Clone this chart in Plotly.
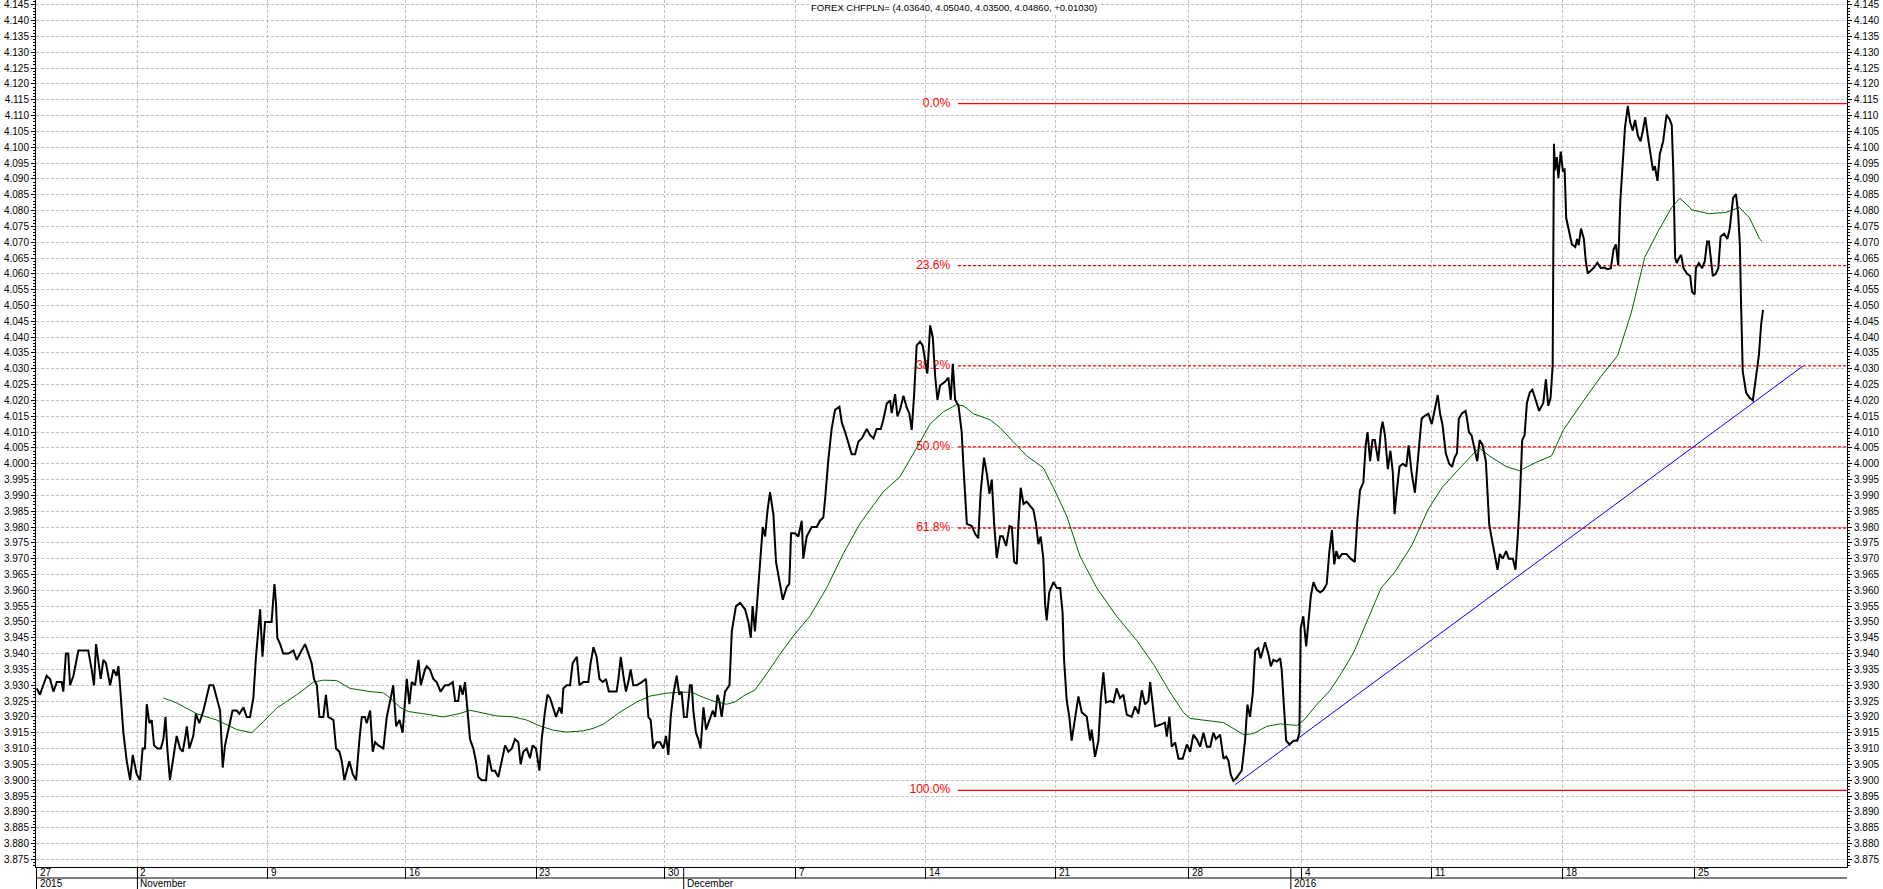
import plotly.graph_objects as go

# ---------------- data ----------------
# time axis: trading days since 27 Oct 2015 (session index)
price_seg1 = [(0.01,3.929),(0.13,3.927),(0.26,3.930),(0.39,3.933),(0.52,3.932),(0.65,3.928),(0.78,3.931),(0.97,3.931),(1.03,3.928),(1.13,3.940),(1.22,3.940),(1.29,3.930),(1.42,3.933),(1.61,3.941),(1.80,3.941),(1.99,3.941),(2.12,3.935),(2.21,3.930),(2.29,3.943),(2.38,3.937),(2.47,3.932),(2.57,3.938),(2.67,3.937),(2.83,3.930),(2.96,3.935),(3.08,3.933),(3.15,3.936),(3.21,3.930),(3.34,3.915),(3.47,3.906),(3.60,3.900),(3.70,3.908),(3.85,3.902),(3.98,3.900),(4.08,3.910),(4.17,3.910),(4.24,3.924),(4.34,3.918),(4.43,3.919),(4.52,3.911),(4.65,3.910),(4.78,3.910),(4.88,3.913),(4.96,3.920),(5.03,3.910),(5.13,3.900),(5.24,3.906),(5.39,3.914),(5.52,3.910),(5.62,3.909),(5.71,3.913),(5.78,3.917),(5.88,3.910),(6.03,3.914),(6.13,3.921),(6.26,3.918),(6.42,3.922),(6.54,3.926),(6.65,3.930),(6.80,3.930),(6.93,3.926),(7.06,3.922),(7.16,3.904),(7.25,3.911),(7.38,3.916),(7.54,3.922),(7.70,3.922),(7.80,3.921),(7.96,3.923),(8.08,3.920),(8.21,3.920),(8.34,3.926),(8.44,3.939),(8.53,3.948),(8.60,3.954),(8.69,3.939),(8.79,3.950),(8.88,3.950),(9.04,3.950),(9.15,3.962),(9.21,3.956),(9.26,3.945),(9.37,3.943),(9.49,3.940),(9.69,3.940),(9.88,3.941),(10.01,3.938),(10.13,3.940),(10.33,3.943),(10.46,3.940),(10.58,3.937),(10.67,3.932),(10.78,3.930),(10.88,3.920),(11.03,3.920),(11.13,3.927),(11.22,3.920),(11.42,3.919),(11.52,3.910),(11.65,3.909),(11.74,3.906),(11.84,3.900),(11.93,3.903),(12.03,3.906),(12.16,3.902),(12.29,3.900),(12.42,3.913),(12.51,3.920),(12.63,3.920),(12.70,3.918),(12.83,3.922),(12.93,3.909),(13.02,3.912),(13.15,3.911),(13.34,3.910),(13.47,3.920),(13.60,3.925),(13.72,3.930),(13.83,3.917),(13.96,3.919),(14.08,3.915),(14.17,3.925),(14.24,3.932),(14.34,3.924),(14.43,3.931),(14.56,3.930),(14.69,3.938),(14.78,3.930),(14.94,3.935),(15.01,3.936),(15.13,3.935),(15.26,3.932),(15.39,3.931),(15.54,3.928),(15.71,3.930),(15.84,3.930),(16.01,3.931),(16.10,3.925),(16.22,3.925),(16.29,3.930),(16.39,3.927),(16.48,3.931),(16.57,3.923),(16.67,3.913)]
price_seg2 = [(16.80,3.910),(16.90,3.906),(16.99,3.901),(17.12,3.900),(17.29,3.900),(17.38,3.908),(17.51,3.903),(17.63,3.903),(17.76,3.901),(17.89,3.906),(18.02,3.911),(18.15,3.909),(18.28,3.910),(18.40,3.913),(18.53,3.912),(18.62,3.905),(18.72,3.909),(18.85,3.910),(18.98,3.907),(19.08,3.911),(19.21,3.910),(19.34,3.903),(19.43,3.913),(19.56,3.922),(19.65,3.927),(19.75,3.926),(19.88,3.923),(19.98,3.920),(20.11,3.923),(20.20,3.921),(20.26,3.929),(20.39,3.930),(20.52,3.930),(20.62,3.937),(20.78,3.939),(20.88,3.930),(21.03,3.931),(21.22,3.931),(21.31,3.937),(21.42,3.942),(21.54,3.939),(21.65,3.932),(21.78,3.931),(21.90,3.932),(22.01,3.928),(22.16,3.928),(22.31,3.928),(22.38,3.932),(22.47,3.939),(22.57,3.933),(22.67,3.928),(22.76,3.931),(22.85,3.935),(22.95,3.930),(23.08,3.930),(23.28,3.931),(23.44,3.932),(23.53,3.920),(23.62,3.919),(23.72,3.910),(23.85,3.912),(23.98,3.912),(24.11,3.910),(24.21,3.914),(24.30,3.908),(24.39,3.920),(24.49,3.927),(24.62,3.933),(24.72,3.927),(24.81,3.928),(24.90,3.920),(25.01,3.920),(25.13,3.930),(25.20,3.930),(25.26,3.922),(25.36,3.915),(25.45,3.913),(25.54,3.910),(25.65,3.923),(25.75,3.916),(25.88,3.919),(26.01,3.922),(26.10,3.920),(26.19,3.927),(26.26,3.925),(26.35,3.920),(26.48,3.928),(26.65,3.930),(26.74,3.947),(26.90,3.955),(27.06,3.956),(27.25,3.954),(27.38,3.950),(27.47,3.945),(27.54,3.955),(27.63,3.947),(27.74,3.959),(27.83,3.968),(27.93,3.980),(28.02,3.977),(28.11,3.985),(28.21,3.991),(28.34,3.984),(28.44,3.969),(28.57,3.963),(28.70,3.957),(28.85,3.961),(28.95,3.962),(29.02,3.978),(29.17,3.978),(29.30,3.977),(29.43,3.982),(29.49,3.970),(29.62,3.977),(29.81,3.980),(30.01,3.980),(30.13,3.982),(30.26,3.983),(30.33,3.989),(30.45,4.001),(30.58,4.011),(30.71,4.017),(30.88,4.018),(30.97,4.013),(31.10,4.010),(31.22,4.007),(31.35,4.003),(31.48,4.003),(31.61,4.007),(31.74,4.008),(31.93,4.011),(32.06,4.009),(32.19,4.008),(32.31,4.011),(32.47,4.011),(32.57,4.014),(32.70,4.019),(32.83,4.020),(32.89,4.016),(33.02,4.022),(33.11,4.015),(33.21,4.017)]
price_seg3 = [(33.34,4.0215),(33.47,4.0177),(33.57,4.0158),(33.66,4.0107),(33.75,4.0215),(33.85,4.0374),(33.98,4.0386),(34.08,4.0374),(34.17,4.0329),(34.26,4.0285),(34.37,4.0437),(34.47,4.0399),(34.56,4.0278),(34.65,4.0202),(34.75,4.0247),(34.94,4.0259),(35.07,4.0272),(35.16,4.0202),(35.24,4.0316),(35.33,4.0202),(35.46,4.0183),(35.58,4.0101),(35.67,3.9962),(35.78,3.9810),(35.97,3.9803),(36.10,3.9778),(36.22,3.9765),(36.31,3.9910),(36.44,4.0019),(36.55,3.9968),(36.65,3.9905),(36.74,3.9950),(36.83,3.9810),(36.93,3.9702),(37.06,3.9771),(37.16,3.9771),(37.29,3.9740),(37.42,3.9803),(37.51,3.9800),(37.60,3.9690),(37.70,3.9683),(37.76,3.9803),(37.85,3.9924),(37.96,3.9873),(38.08,3.9880),(38.21,3.9867),(38.34,3.9854),(38.44,3.9810),(38.53,3.9746),(38.62,3.9770),(38.72,3.9702),(38.79,3.9556),(38.85,3.9505),(38.95,3.9594),(39.11,3.9626),(39.24,3.9607),(39.37,3.9607),(39.46,3.9531),(39.52,3.9379),(39.62,3.9252),(39.72,3.9201),(39.81,3.9125),(39.94,3.9201),(40.07,3.9265),(40.20,3.9214),(40.39,3.9201),(40.52,3.9125),(40.58,3.9160),(40.71,3.9074),(40.84,3.9125),(40.93,3.9252),(41.03,3.9341),(41.13,3.9246),(41.29,3.9250),(41.42,3.9246),(41.54,3.9290),(41.67,3.9260),(41.80,3.9270),(41.93,3.9207),(42.12,3.9200),(42.25,3.9233),(42.38,3.9210),(42.51,3.9284),(42.63,3.9240),(42.76,3.9250),(42.83,3.9310),(42.96,3.9214),(43.02,3.9170),(43.21,3.9175),(43.40,3.9182),(43.47,3.9138),(43.57,3.9201),(43.66,3.9106),(43.79,3.9119),(43.92,3.9068),(44.08,3.9068),(44.24,3.9113),(44.37,3.9090),(44.49,3.9144),(44.62,3.9130),(44.75,3.9106),(44.88,3.9150),(45.01,3.9106),(45.14,3.9106),(45.26,3.9150),(45.36,3.9130),(45.52,3.9144),(45.65,3.9068),(45.75,3.9075),(45.84,3.9062),(45.93,3.9017),(46.03,3.8998),(46.13,3.9005),(46.22,3.9017),(46.35,3.9030),(46.48,3.9125),(46.57,3.9239),(46.67,3.9200),(46.78,3.9277),(46.87,3.9410),(46.99,3.9417),(47.08,3.9385),(47.25,3.9436),(47.38,3.9398),(47.47,3.9360),(47.57,3.9380),(47.70,3.9375),(47.83,3.9385),(47.89,3.9347),(47.98,3.9227),(48.06,3.9125),(48.19,3.9113),(48.34,3.9125),(48.49,3.9125),(48.57,3.9150),(48.62,3.9480),(48.72,3.9518),(48.83,3.9423),(48.92,3.9506),(49.01,3.9582),(49.11,3.9626),(49.24,3.9601),(49.37,3.9594),(49.49,3.9601),(49.62,3.9620),(49.72,3.9721)]
price_seg4 = [(49.82,3.9790),(49.91,3.9682),(49.99,3.9724),(50.08,3.9700),(50.21,3.9715),(50.38,3.9715),(50.54,3.9700),(50.70,3.9690),(50.80,3.9824),(50.90,3.9916),(51.03,3.9941),(51.12,4.0058),(51.19,4.0100),(51.29,4.0008),(51.38,4.0075),(51.47,4.0075),(51.60,4.0008),(51.71,4.0108),(51.77,4.0133),(51.86,4.0090),(51.97,3.9983),(52.07,4.0041),(52.16,3.9975),(52.23,3.9841),(52.33,3.9925),(52.42,3.9991),(52.55,4.0000),(52.68,3.9991),(52.77,4.0058),(52.88,3.9975),(53.01,3.9908),(53.11,4.0008),(53.20,4.0075),(53.27,4.0142),(53.37,4.0150),(53.53,4.0158),(53.66,4.0125),(53.79,4.0175),(53.89,4.0217),(53.98,4.0158),(54.07,4.0125),(54.20,4.0033),(54.33,4.0000),(54.44,3.9990),(54.54,4.0020),(54.63,4.0033),(54.70,4.0142),(54.83,4.0160),(54.96,4.0167),(55.02,4.0140),(55.09,4.0100),(55.19,4.0090),(55.28,4.0058),(55.41,4.0008),(55.50,4.0075),(55.61,4.0060),(55.74,4.0008),(55.87,3.9808),(55.98,3.9758),(56.13,3.9691),(56.19,3.9665),(56.28,3.9715),(56.39,3.9700),(56.52,3.9724),(56.62,3.9700),(56.78,3.9700),(56.88,3.9665),(56.97,3.9774),(57.04,3.9874),(57.14,4.0075),(57.23,4.0090),(57.32,4.0192),(57.43,4.0225),(57.53,4.0234),(57.66,4.0200),(57.79,4.0167),(57.95,4.0192),(58.05,4.0267),(58.14,4.0183),(58.23,4.0208),(58.31,4.0309),(58.36,4.1011),(58.40,4.0927),(58.47,4.0969),(58.53,4.0902),(58.62,4.0986),(58.70,4.0927),(58.77,4.0930),(58.83,4.0777),(58.92,4.0743),(59.05,4.0693),(59.18,4.0685),(59.25,4.0710),(59.31,4.0690),(59.40,4.0743),(59.51,4.0710),(59.58,4.0643),(59.66,4.0601),(59.77,4.0610),(59.90,4.0620),(60.03,4.0635),(60.16,4.0618),(60.29,4.0620),(60.42,4.0615),(60.55,4.0618),(60.65,4.0677),(60.74,4.0693),(60.83,4.0627),(60.91,4.0827),(61.00,4.0944),(61.09,4.1061),(61.20,4.1131),(61.29,4.1078),(61.39,4.1053),(61.48,4.1086),(61.59,4.1036),(61.69,4.1019),(61.78,4.1053),(61.87,4.1095),(61.98,4.1028),(62.08,4.0969),(62.17,4.0927),(62.24,4.0940),(62.34,4.0894),(62.43,4.0978),(62.56,4.1019),(62.69,4.1103),(62.82,4.1086),(62.89,4.1070),(62.95,4.0927),(63.02,4.0651),(63.08,4.0634),(63.17,4.0650),(63.25,4.0660),(63.34,4.0618),(63.47,4.0601),(63.60,4.0593),(63.67,4.0543),(63.77,4.0535),(63.82,4.0618),(63.93,4.0634),(64.06,4.0618),(64.16,4.0640),(64.25,4.0702),(64.32,4.0702),(64.38,4.0650),(64.47,4.0593),(64.58,4.0600),(64.68,4.0618),(64.77,4.0718),(64.90,4.0727),(65.03,4.0710),(65.12,4.0743),(65.25,4.0840),(65.36,4.0852),(65.44,4.0794),(65.51,4.0693),(65.55,4.0526),(65.62,4.0292),(65.75,4.0225),(65.88,4.0208),(66.01,4.0200),(66.07,4.0242),(66.14,4.0275),(66.24,4.0342),(66.33,4.0442),(66.40,4.0486)]

# moving average (green)
ma_points = [(4.88,3.926),(5.39,3.9244),(6.16,3.921),(6.93,3.919),(7.70,3.916),(8.28,3.915),(8.72,3.9185),(9.24,3.9228),(10.01,3.927),(10.65,3.931),(11.03,3.9316),(11.54,3.9315),(12.06,3.929),(12.83,3.928),(13.34,3.9276),(13.60,3.926),(13.98,3.923),(14.30,3.9217),(14.88,3.921),(15.65,3.920),(16.29,3.9211),(16.67,3.9221),(17.70,3.9203),(18.34,3.920),(18.85,3.919),(19.37,3.9171),(19.88,3.9158),(20.39,3.9152),(21.03,3.9156),(21.42,3.9164),(21.80,3.9177),(22.44,3.9215),(23.08,3.9247),(23.60,3.9266),(24.24,3.9275),(24.75,3.9278),(25.20,3.9278),(25.52,3.9266),(26.03,3.925),(26.54,3.924),(26.86,3.9247),(27.19,3.9266),(27.63,3.9285),(28.08,3.9336),(28.60,3.9399),(29.11,3.9456),(29.75,3.9519),(30.39,3.9608),(31.03,3.9716),(31.67,3.9811),(32.57,3.9912),(33.21,3.9959),(33.85,4.005),(34.37,4.0126),(34.88,4.0164),(35.39,4.0187),(35.65,4.0183),(36.03,4.0158),(36.67,4.0139),(37.06,4.0114),(37.57,4.0069),(38.08,4.0025),(38.72,3.9987),(39.11,3.9924),(39.62,3.9835),(40.13,3.9708),(40.78,3.9607),(41.54,3.9518),(42.31,3.9442),(42.96,3.9366),(43.60,3.9277),(44.11,3.9214),(44.37,3.9195),(45.01,3.9188),(45.65,3.9182),(46.42,3.9144),(46.80,3.9147),(47.31,3.9170),(47.83,3.9178),(48.47,3.9173),(48.72,3.9188),(49.24,3.9239),(49.75,3.9284),(50.20,3.9340),(50.67,3.9406),(51.19,3.9506),(51.71,3.9607),(52.23,3.9657),(52.88,3.9740),(53.53,3.9857),(54.05,3.9924),(54.70,3.9983),(55.48,4.0050),(55.87,4.0025),(56.52,3.9991),(57.04,3.9978),(57.69,4.0005),(58.27,4.0025),(58.73,4.0108),(59.51,4.0200),(60.16,4.0275),(60.81,4.0342),(61.33,4.0476),(61.85,4.0652),(62.37,4.0735),(62.89,4.0810),(63.21,4.0839),(63.67,4.0802),(64.32,4.0790),(64.97,4.0794),(65.49,4.0810),(65.88,4.0777),(66.27,4.0710),(66.37,4.0702)]

# trend line (blue), two anchor points
trend_t = [46.10, 67.96]
trend_v = [3.8986, 4.0310]

# Fibonacci retracement
fib_high = 4.1138
fib_low = 3.8968
fib_ratios = [0.0, 0.236, 0.382, 0.5, 0.618, 1.0]
fib_labels = ["0.0%", "23.6%", "38.2%", "50.0%", "61.8%", "100.0%"]
fib_start = 35.44

# axis ticks
week_pos = [0.0, 3.88, 8.89, 14.20, 19.21, 24.17, 29.20, 34.20, 39.20, 44.32, 48.66, 53.66, 58.70, 63.77]
week_labels = ["27", "2", "9", "16", "23", "30", "7", "14", "21", "28", "4", "11", "18", "25"]
month_pos = [0.0, 3.88, 24.89, 48.24]
month_labels = ["2015", "November", "December", "2016"]

title_text = "FOREX CHFPLN= (4.03640, 4.05040, 4.03500, 4.04860, +0.01030)"

x_min, x_max = -0.02, 69.63
y_min, y_max = 3.87257, 4.14653

# ---------------- figure ----------------
price = price_seg1 + price_seg2 + price_seg3 + price_seg4
price_t = [p[0] for p in price]
price_v = [p[1] for p in price]
ma_t = [p[0] for p in ma_points]
ma_v = [p[1] for p in ma_points]

FONT = "Arial, Liberation Sans, sans-serif"
PLOT_H = 889 - 22

fig = go.Figure()

# fib lines
for r, lab in zip(fib_ratios, fib_labels):
    lvl = fib_high - r * (fib_high - fib_low)
    solid = r in (0.0, 1.0)
    fig.add_trace(go.Scatter(
        x=[fib_start, x_max], y=[lvl, lvl], mode="lines",
        line=dict(color="#ff0000", width=1.3, dash="solid" if solid else "3px,2px"),
        hoverinfo="skip"))
    fig.add_trace(go.Scatter(
        x=[fib_start - 0.3], y=[lvl], mode="text", text=[lab],
        textposition="middle left",
        textfont=dict(family=FONT, size=12, color="#ff0000"),
        hoverinfo="skip"))

fig.add_trace(go.Scatter(x=ma_t, y=ma_v, mode="lines",
                         line=dict(color="#006400", width=1), hoverinfo="skip"))
fig.add_trace(go.Scatter(x=trend_t, y=trend_v, mode="lines",
                         line=dict(color="#0000ff", width=1), hoverinfo="skip"))
fig.add_trace(go.Scatter(x=price_t, y=price_v, mode="lines",
                         line=dict(color="black", width=2), hoverinfo="skip"))
# dummy trace for right axis
fig.add_trace(go.Scatter(x=[price_t[0]], y=[price_v[0]], yaxis="y2", mode="markers",
                         marker=dict(opacity=0), hoverinfo="skip"))

yax_common = dict(
    range=[y_min, y_max], tick0=3.875, dtick=0.005, tickformat=".3f",
    ticks="outside", ticklen=4, tickcolor="black", tickwidth=1,
    minor=dict(dtick=0.001, ticks="outside", ticklen=2, tickcolor="black", showgrid=False),
    showline=True, linecolor="black", linewidth=1,
    tickfont=dict(family=FONT, size=10, color="black"),
    ticklabeloverflow="allow",
    zeroline=False, fixedrange=True,
)

fig.update_layout(
    width=1883, height=889,
    margin=dict(l=36, r=36, t=0, b=22),
    paper_bgcolor="white", plot_bgcolor="white",
    showlegend=False,
    xaxis=dict(range=[x_min, x_max], tickvals=week_pos, ticktext=[""] * len(week_pos),
               ticks="outside", ticklen=11, tickcolor="black", tickwidth=1,
               showticklabels=False,
               showgrid=True, gridcolor="#c0c0c0", griddash="3px,2px", gridwidth=1,
               showline=True, linecolor="black", linewidth=1, zeroline=False),
    yaxis=dict(**yax_common, side="left", showgrid=True, gridcolor="#c0c0c0",
               griddash="3px,2px", gridwidth=1),
    yaxis2=dict(**yax_common, side="right", overlaying="y", showgrid=False),
)

shapes = []
annotations = []
# second row line of the date axis
shapes.append(dict(type="line", xref="paper", yref="paper", x0=0, x1=1,
                   y0=-11 / PLOT_H, y1=-11 / PLOT_H, line=dict(color="black", width=1)))
for mp in month_pos:
    shapes.append(dict(type="line", xref="x", yref="paper", x0=mp, x1=mp,
                       y0=0, y1=-22 / PLOT_H, line=dict(color="black", width=1)))
for wp, wl in zip(week_pos, week_labels):
    annotations.append(dict(x=wp, y=-5.5 / PLOT_H, xref="x", yref="paper", text=wl,
                            showarrow=False, xanchor="left", yanchor="middle", xshift=1,
                            font=dict(family=FONT, size=10, color="black")))
for mp, ml in zip(month_pos, month_labels):
    annotations.append(dict(x=mp, y=-16.5 / PLOT_H, xref="x", yref="paper", text=ml,
                            showarrow=False, xanchor="left", yanchor="middle", xshift=1,
                            font=dict(family=FONT, size=10, color="black")))
annotations.append(dict(x=(810 - 36) / 1811, y=1 - 7 / PLOT_H, xref="paper", yref="paper",
                        text=title_text, showarrow=False, xanchor="left", yanchor="middle",
                        bgcolor="white", borderpad=0,
                        font=dict(family=FONT, size=9.5, color="black")))

fig.update_layout(shapes=shapes, annotations=annotations)

fig.write_html("out.html")
